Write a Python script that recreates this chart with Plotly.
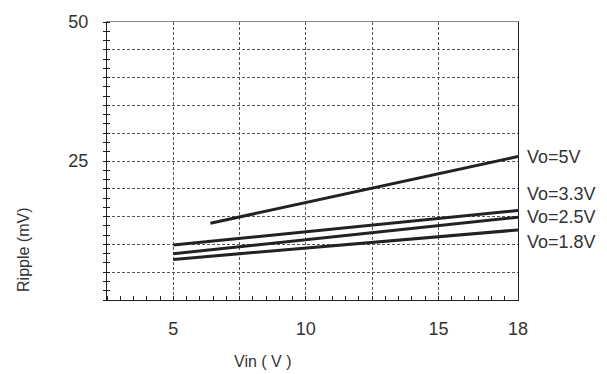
import plotly.graph_objects as go

# Output voltage series: input voltage (V) vs ripple (mV)
vin_5v = [6.4, 18]
ripple_5v = [13.8, 25.8]
vin_3v3 = [5, 18]
ripple_3v3 = [9.9, 16.1]
vin_2v5 = [5, 18]
ripple_2v5 = [8.3, 14.9]
vin_1v8 = [5, 18]
ripple_1v8 = [7.3, 12.6]

series_names = ["Vo=5V", "Vo=3.3V", "Vo=2.5V", "Vo=1.8V"]
label_y = [25.8, 19.0, 15.0, 10.5]

x_ticks = [5, 10, 15, 18]
x_tick_text = ["5", "10", "15", "18"]
y_ticks = [25, 50]
y_tick_text = ["25", "50"]
x_grid = [5, 7.5, 10, 12.5, 15]
y_grid = [5, 10, 15, 20, 25, 30, 35, 40, 45]

FONT = "Liberation Sans, Arial, sans-serif"
TXT = "#333333"
LINE = "#222222"
GRID = "#555555"

fig = go.Figure()
for xs, ys, name in zip([vin_5v, vin_3v3, vin_2v5, vin_1v8],
                        [ripple_5v, ripple_3v3, ripple_2v5, ripple_1v8],
                        series_names):
    fig.add_trace(go.Scatter(x=xs, y=ys, mode="lines", name=name,
                             line=dict(color=LINE, width=3),
                             showlegend=False, hoverinfo="skip"))

# empty trace so the overlay grid axes are drawn
fig.add_trace(go.Scatter(x=[None], y=[None], xaxis="x2", yaxis="y2",
                         showlegend=False, hoverinfo="skip"))

# series labels on the right of the plot
for name, ly in zip(series_names, label_y):
    fig.add_annotation(x=1.0, xref="paper", y=ly, yref="y", text=name,
                       showarrow=False, xanchor="left", xshift=7,
                       font=dict(family=FONT, size=18, color=TXT))

fig.update_layout(
    width=607, height=374,
    margin=dict(l=107, r=89, t=15, b=74),
    paper_bgcolor="white", plot_bgcolor="white",
    font=dict(family=FONT, size=18, color=TXT),
    xaxis=dict(range=[2.5, 18], tickvals=x_ticks, ticktext=x_tick_text,
               showgrid=False, zeroline=False, ticks="",
               showline=True, linecolor="#222", linewidth=1,
               ticklabelstandoff=12,
               minor=dict(dtick=0.5, tick0=2.5, ticks="inside", ticklen=4,
                          tickcolor="#222", tickwidth=1, showgrid=False)),
    xaxis2=dict(range=[2.5, 18], overlaying="x", side="top", anchor="y2",
                tickvals=x_grid, showticklabels=False, ticks="",
                showgrid=True, gridcolor=GRID, gridwidth=1, griddash="3px,2px",
                zeroline=False, showline=True, linecolor="#888", linewidth=1),
    yaxis=dict(range=[0, 50], tickvals=y_ticks, ticktext=y_tick_text,
               showgrid=False, zeroline=False, ticks="",
               showline=True, linecolor="#222", linewidth=1, mirror=True,
               ticklabelstandoff=14,
               minor=dict(dtick=5/3, tick0=0, ticks="outside", ticklen=3,
                          tickcolor="#222", tickwidth=1, showgrid=False)),
    yaxis2=dict(range=[0, 50], overlaying="y", side="left", anchor="x2",
                tickvals=y_grid, showticklabels=False, ticks="",
                showgrid=True, gridcolor=GRID, gridwidth=1, griddash="3px,2px",
                zeroline=False, showline=False,
                minor=dict(dtick=5/3, tick0=0, ticks="inside", ticklen=3,
                           tickcolor="#222", tickwidth=1, showgrid=False)),
)

# axis titles
fig.add_annotation(text="Ripple (mV)", xref="paper", yref="paper",
                   x=0.0, y=0.18, xanchor="center", yanchor="middle",
                   xshift=-83, textangle=-90, showarrow=False,
                   font=dict(family=FONT, size=16, color=TXT))
fig.add_annotation(text="Vin ( V )", xref="paper", yref="paper",
                   x=0.38, y=0, yanchor="middle", yshift=-61,
                   showarrow=False,
                   font=dict(family=FONT, size=16, color=TXT))

fig.write_html("out.html")
